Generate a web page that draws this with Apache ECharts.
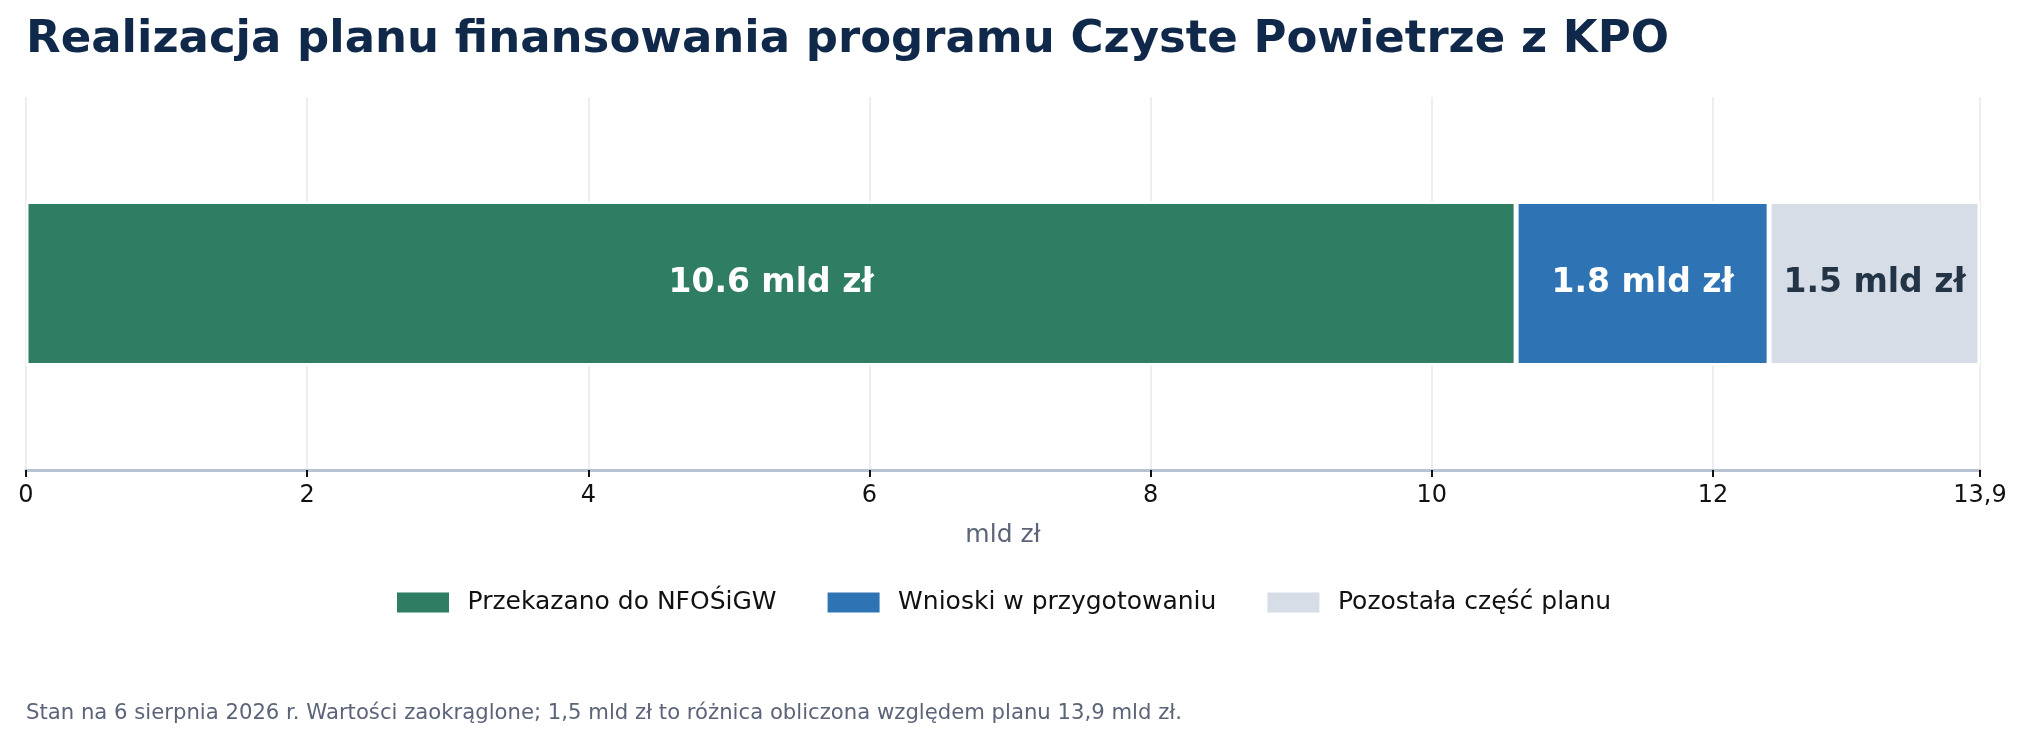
<!DOCTYPE html>
<html>
<head>
<meta charset="utf-8">
<script src="https://cdn.jsdelivr.net/npm/echarts@6/dist/echarts.min.js"></script>
<style>
  html, body { margin: 0; padding: 0; background: #fff; }
  #main { width: 2026px; height: 740px; }
</style>
</head>
<body>
<div id="main"></div>
<script>
// dane (mld zł)
const categories = ['Plan KPO']
const seriesNames = ['Przekazano do NFOŚiGW', 'Wnioski w przygotowaniu', 'Pozostała część planu']
const seriesValues = [10.6, 1.8, 1.5]
const planTotal = 13.9
const tickLabels = { 0: '0', 2: '2', 4: '4', 6: '6', 8: '8', 10: '10', 12: '12', 13.9: '13,9' }
const colors = ['#2f7d62', '#2e73b3', '#d6dde6']
const labelColors = ['#ffffff', '#ffffff', '#243447']

const font = 'DejaVu Sans'

const series = seriesNames.map((name, i) => ({
    name: name,
    type: 'bar',
    stack: 'plan',
    barWidth: 164,
    data: [seriesValues[i]],
    itemStyle: { color: colors[i], borderColor: '#ffffff', borderWidth: 2.5 },
    label: {
        show: true,
        position: 'inside',
        formatter: p => `${p.value.toFixed(1)} mld zł`,
        color: labelColors[i],
        fontFamily: font,
        fontWeight: 'bold',
        fontSize: 33,
    },
    emphasis: { disabled: true },
}))

echarts.init(document.getElementById('main')).setOption({
    animation: false,
    backgroundColor: '#ffffff',
    title: [{
        text: 'Realizacja planu finansowania programu Czyste Powietrze z KPO',
        left: 21,
        top: 13,
        textStyle: { fontFamily: font, fontWeight: 'bold', fontSize: 45, color: '#10284a' },
    }, {
        text: 'Stan na 6 sierpnia 2026 r. Wartości zaokrąglone; 1,5 mld zł to różnica obliczona względem planu 13,9 mld zł.',
        left: 21,
        top: 698,
        textStyle: { fontFamily: font, fontWeight: 'normal', fontSize: 21.2, color: '#5b6478' },
    }],
    legend: {
        data: seriesNames,
        top: 585,
        left: 392,
        itemWidth: 52,
        itemHeight: 20,
        itemGap: 51,
        icon: 'rect',
        itemStyle: { borderWidth: 0 },
        textStyle: { fontFamily: font, fontSize: 25, color: '#111111', padding: [0, 0, 0, 13.5] },
    },
    grid: { left: 26, right: 46, top: 97, bottom: 270, containLabel: false },
    xAxis: {
        type: 'value',
        min: 0,
        max: planTotal,
        interval: 2,
        name: 'mld zł',
        nameLocation: 'middle',
        nameGap: 52.5,
        nameTextStyle: { fontFamily: font, fontSize: 25, color: '#5b6478' },
        axisLine: { show: true, lineStyle: { color: '#b8c2d0', width: 3 } },
        axisTick: { show: true, length: 7, lineStyle: { color: '#111111', width: 2 } },
        axisLabel: {
            margin: 14,
            fontFamily: font,
            fontSize: 24,
            color: '#111111',
            formatter: v => tickLabels[v] !== undefined ? tickLabels[v] : String(v),
        },
        splitLine: { show: true, lineStyle: { color: '#e6e9ef', width: 1.5 } },
    },
    yAxis: {
        type: 'category',
        data: categories,
        axisLine: { show: false },
        axisTick: { show: false },
        axisLabel: { show: false },
        splitLine: { show: false },
    },
    series: series,
})
</script>
</body>
</html>
